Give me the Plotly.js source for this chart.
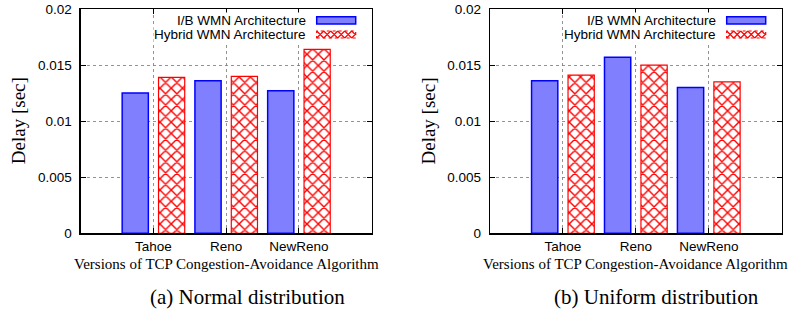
<!DOCTYPE html>
<html>
<head>
<meta charset="utf-8">
<script src="https://cdn.plot.ly/plotly-3.0.1.min.js"></script>
<style>html,body{margin:0;padding:0;background:#fff;}#chart{width:791px;height:314px;}</style>
</head>
<body>
<div id="chart"></div>
<script>
const categories = ['Tahoe', 'Reno', 'NewReno'];
const seriesNames = ['I/B WMN Architecture', 'Hybrid WMN Architecture'];
const normalIB = [0.0125, 0.0136, 0.0127];
const normalHybrid = [0.0139, 0.0140, 0.0164];
const uniformIB = [0.0136, 0.0157, 0.0130];
const uniformHybrid = [0.0141, 0.0150, 0.0135];
const yTickVals = [0, 0.005, 0.01, 0.015, 0.02];
const yTickText = ['0', '0.005', '0.01', '0.015', '0.02'];
const yTitle = 'Delay [sec]';
const xTitle = 'Versions of TCP Congestion-Avoidance Algorithm';
const captions = ['(a) Normal distribution', '(b) Uniform distribution'];

const W = 791, H = 314;
const SANS = 'Liberation Sans, Arial, sans-serif';
const SERIF = 'Liberation Serif, Times New Roman, serif';
const BLUE_FILL = 'rgb(128,128,255)';
const BLUE_LINE = 'rgb(0,0,255)';
const RED = 'rgb(255,0,0)';

function ibTrace(y, xa, ya) {
  return {type: 'bar', x: categories, y: y, name: seriesNames[0], xaxis: xa, yaxis: ya,
    marker: {color: BLUE_FILL, line: {color: BLUE_LINE, width: 1.5}}, showlegend: false, hoverinfo: 'none'};
}
function hyTrace(y, xa, ya) {
  return {type: 'bar', x: categories, y: y, name: seriesNames[1], xaxis: xa, yaxis: ya,
    marker: {color: 'white', line: {color: RED, width: 1.2},
      pattern: {shape: 'x', fgcolor: RED, bgcolor: 'white', size: 8, solidity: 0.32, fillmode: 'replace'}},
    showlegend: false, hoverinfo: 'none'};
}

const data = [
  ibTrace(normalIB, 'x', 'y'), hyTrace(normalHybrid, 'x', 'y'),
  ibTrace(uniformIB, 'x2', 'y2'), hyTrace(uniformHybrid, 'x2', 'y2')
];

const plots = [
  {left: 80.7, right: 371.7},
  {left: 490, right: 781.7}
];
const plotTop = 9, plotBottom = 233.3;

function xaxis(p) {
  return {domain: [p.left / W, p.right / W], type: 'category', range: [-1, 3],
    showline: true, linecolor: 'black', linewidth: 1.3, mirror: 'ticks',
    ticks: 'inside', ticklen: 5, tickcolor: 'black', tickwidth: 1,
    showgrid: true, gridcolor: 'rgb(120,120,120)', gridwidth: 0.8, griddash: 'dot',
    tickfont: {family: SANS, size: 13.5, color: 'black'}, zeroline: false, fixedrange: true};
}
function yaxis() {
  return {domain: [1 - plotBottom / H, 1 - plotTop / H], range: [0, 0.02],
    tickvals: yTickVals, ticktext: yTickText,
    showline: true, linecolor: 'black', linewidth: 1.3, mirror: 'ticks',
    ticks: 'inside', ticklen: 5, tickcolor: 'black', tickwidth: 1,
    showgrid: true, gridcolor: 'rgb(120,120,120)', gridwidth: 0.8, griddash: 'dot',
    tickfont: {family: SANS, size: 13.5, color: 'black'}, ticklabelstandoff: 5,
    zeroline: false, fixedrange: true};
}

const annotations = [];
const shapes = [];
function px(x) { return x / W; }
function py(y) { return 1 - y / H; }

function hatchPath(x0, y0, x1, y1, s) {
  let d = '';
  for (let c = x0 - y1; c <= x1 - y0; c += s) {
    const a = Math.max(x0, y0 + c), b = Math.min(x1, y1 + c);
    if (b > a) d += 'M' + px(a) + ',' + py(a - c) + 'L' + px(b) + ',' + py(b - c) + ' ';
  }
  for (let c = x0 + y0; c <= x1 + y1; c += s) {
    const a = Math.max(x0, c - y1), b = Math.min(x1, c - y0);
    if (b > a) d += 'M' + px(a) + ',' + py(c - a) + 'L' + px(b) + ',' + py(c - b) + ' ';
  }
  return d;
}

plots.forEach((p, i) => {
  const cx = (p.left + p.right) / 2;
  annotations.push({xref: 'paper', yref: 'paper', x: px(p.left - 62.5), y: py(121), text: yTitle,
    textangle: -90, showarrow: false, xanchor: 'center', yanchor: 'middle',
    font: {family: SERIF, size: 19, color: 'black'}});
  annotations.push({xref: 'paper', yref: 'paper', x: px(cx), y: py(264), text: xTitle,
    showarrow: false, xanchor: 'center', yanchor: 'middle',
    font: {family: SERIF, size: 15, color: 'black'}});
  annotations.push({xref: 'paper', yref: 'paper', x: px(cx + 21), y: py(297), text: captions[i],
    showarrow: false, xanchor: 'center', yanchor: 'middle',
    font: {family: SERIF, size: 21, color: 'black'}});
  const textRight = p.right - 65;
  const sx0 = p.right - 55, sx1 = p.right - 16;
  const rows = [{yc: 21, y0: 16.7, y1: 24}, {yc: 34.5, y0: 31, y1: 38}];
  rows.forEach((r, k) => {
    annotations.push({xref: 'paper', yref: 'paper', x: px(textRight), y: py(r.yc), text: seriesNames[k],
      showarrow: false, xanchor: 'right', yanchor: 'middle', bgcolor: 'white', borderpad: 0,
      font: {family: SANS, size: 13.5, color: 'black'}});
  });
  shapes.push({type: 'rect', xref: 'paper', yref: 'paper', x0: px(sx0), x1: px(sx1), y0: py(rows[0].y1), y1: py(rows[0].y0),
    fillcolor: BLUE_FILL, line: {color: BLUE_LINE, width: 1.5}});
  shapes.push({type: 'rect', xref: 'paper', yref: 'paper', x0: px(sx0), x1: px(sx1), y0: py(rows[1].y1), y1: py(rows[1].y0),
    fillcolor: 'white', line: {color: RED, width: 1.2, dash: 'dot'}});
  shapes.push({type: 'path', xref: 'paper', yref: 'paper', path: hatchPath(sx0, rows[1].y0, sx1, rows[1].y1, 7),
    line: {color: RED, width: 1.2}});
});

const layout = {
  width: W, height: H, margin: {l: 0, r: 0, t: 0, b: 0},
  paper_bgcolor: 'white', plot_bgcolor: 'white',
  barmode: 'group', bargap: 0, bargroupgap: 0.28,
  showlegend: false,
  xaxis: Object.assign(xaxis(plots[0]), {anchor: 'y'}),
  yaxis: Object.assign(yaxis(), {anchor: 'x'}),
  xaxis2: Object.assign(xaxis(plots[1]), {anchor: 'y2'}),
  yaxis2: Object.assign(yaxis(), {anchor: 'x2'}),
  annotations: annotations, shapes: shapes
};

Plotly.newPlot('chart', data, layout, {displayModeBar: false, staticPlot: true});
</script>
</body>
</html>
